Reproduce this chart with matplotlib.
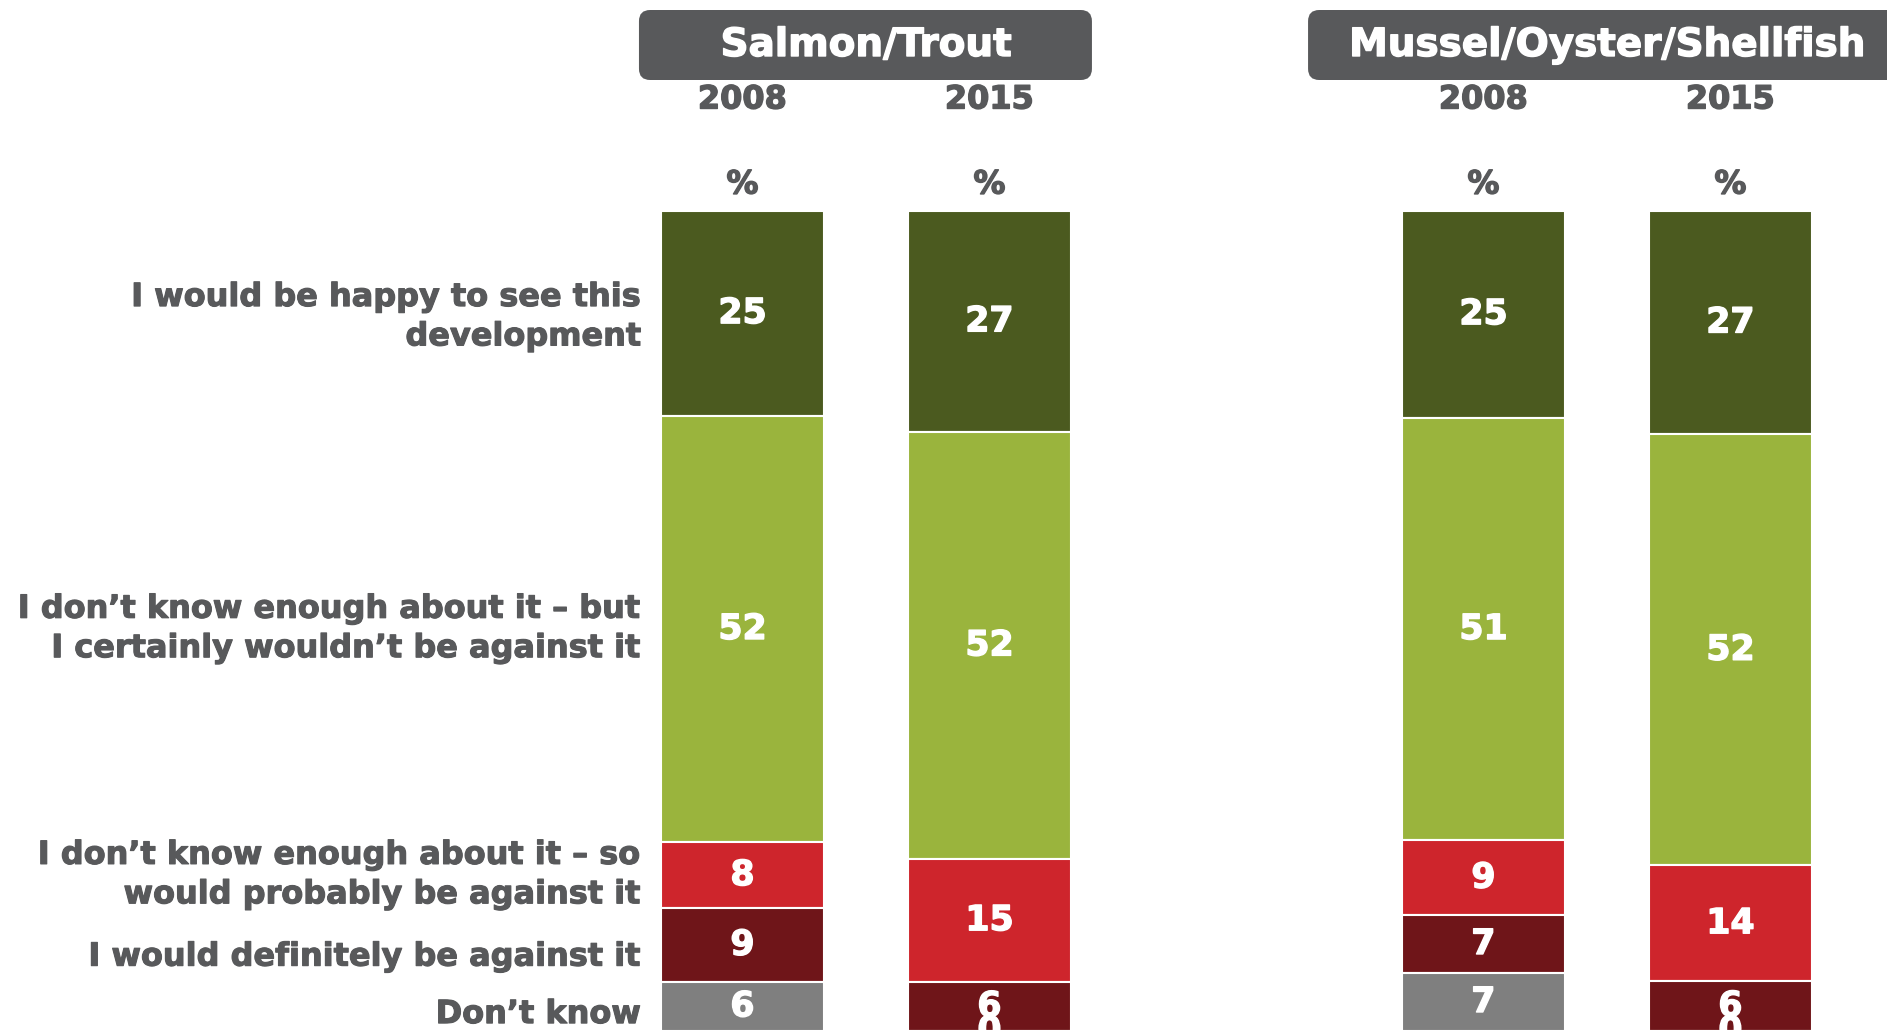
import numpy as np
import matplotlib
matplotlib.use("Agg")
from matplotlib import pyplot as plt
from matplotlib import transforms
from matplotlib import patheffects as pe
from matplotlib.patches import FancyBboxPatch

# data, stacked from top to bottom
groups = ['Salmon/Trout', 'Mussel/Oyster/Shellfish']
years = ['2008', '2015', '2008', '2015']
xpos = [0, 1, 3, 4]

categories = ['I would be happy to see this\ndevelopment',
              'I don\u2019t know enough about it \u2013 but\nI certainly wouldn\u2019t be against it',
              'I don\u2019t know enough about it \u2013 so\nwould probably be against it',
              'I would definitely be against it',
              'Don\u2019t know']

happy = [25, 27, 25, 27]
not_against = [52, 52, 51, 52]
probably_against = [8, 15, 9, 14]
definitely_against = [9, 6, 7, 6]
dont_know = [6, 0, 7, 0]

series = [happy, not_against, probably_against, definitely_against, dont_know]
colors = ['#4B5A1F', '#9AB43D', '#CE252C', '#6F1519', '#7F7F7F']
grey = '#58595B'

def heavy(col, w=1.2):
    return [pe.withStroke(linewidth=w, foreground=col)]

fig = plt.figure(figsize=(18.87, 10.31), dpi=100)
ax = fig.add_axes([0, 0, 1, 1 - 210.6 / 1031])
ax.set_xlim(-3.006, 4.634)
ax.set_ylim(0, 100)
ax.axis('off')

# each column is drawn as a 100% stack
totals = np.sum(np.array(series, dtype=float), axis=0)
width = 0.66
top = np.full(4, 100.0)
for vals, col in zip(series, colors):
    vals = np.array(vals, dtype=float)
    h = vals / totals * 100
    bottom = top - h
    ax.bar(xpos, h, width=width, bottom=bottom, color=col,
           edgecolor='white', linewidth=1.5)
    for x, b, hh, v in zip(xpos, bottom, h, vals):
        ax.text(x, b + hh / 2, '%d' % v, ha='center', va='center',
                color='white', fontsize=25, fontweight='bold',
                path_effects=heavy('white', 1.0))
    top = bottom

# category labels next to the first bar
first = np.array([s[0] for s in series], dtype=float) / totals[0] * 100
centers = 100 - np.cumsum(first) + first / 2
offs = [-0.5, 0, 0, -1.5, -1.0]
for lab, c, o in zip(categories, centers, offs):
    ax.text(-0.41, c + o, lab, ha='right', va='center', color=grey,
            fontsize=23, fontweight='bold', linespacing=1.35,
            path_effects=heavy(grey, 0.8))

# headers
trans = transforms.blended_transform_factory(ax.transData, fig.transFigure)
for x, y in zip(xpos, years):
    ax.text(x, 1 - 100 / 1031, y, transform=trans, ha='center', va='center',
            color=grey, fontsize=23, fontweight='bold',
            path_effects=heavy(grey, 1.0))
    ax.text(x, 1 - 185 / 1031, '%', transform=trans, ha='center', va='center',
            color=grey, fontsize=23, fontweight='bold',
            path_effects=heavy(grey, 1.0))

box_spans = [(-0.419, 1.415), (2.29, 4.75)]
for (x0, x1), g, cx in zip(box_spans, groups, [0.5, 3.5]):
    y0 = 1 - 80 / 1031
    h = 70 / 1031
    box = FancyBboxPatch((x0, y0), x1 - x0, h,
                         boxstyle='round,pad=0,rounding_size=0.045',
                         transform=trans, facecolor=grey, edgecolor='none',
                         mutation_aspect=0.24, clip_on=False)
    ax.add_patch(box)
    ax.text(cx, y0 + h / 2, g, transform=trans, ha='center', va='center',
            color='white', fontsize=28, fontweight='bold',
            path_effects=heavy('white', 1.0))

fig.savefig('out.png', dpi=100)
